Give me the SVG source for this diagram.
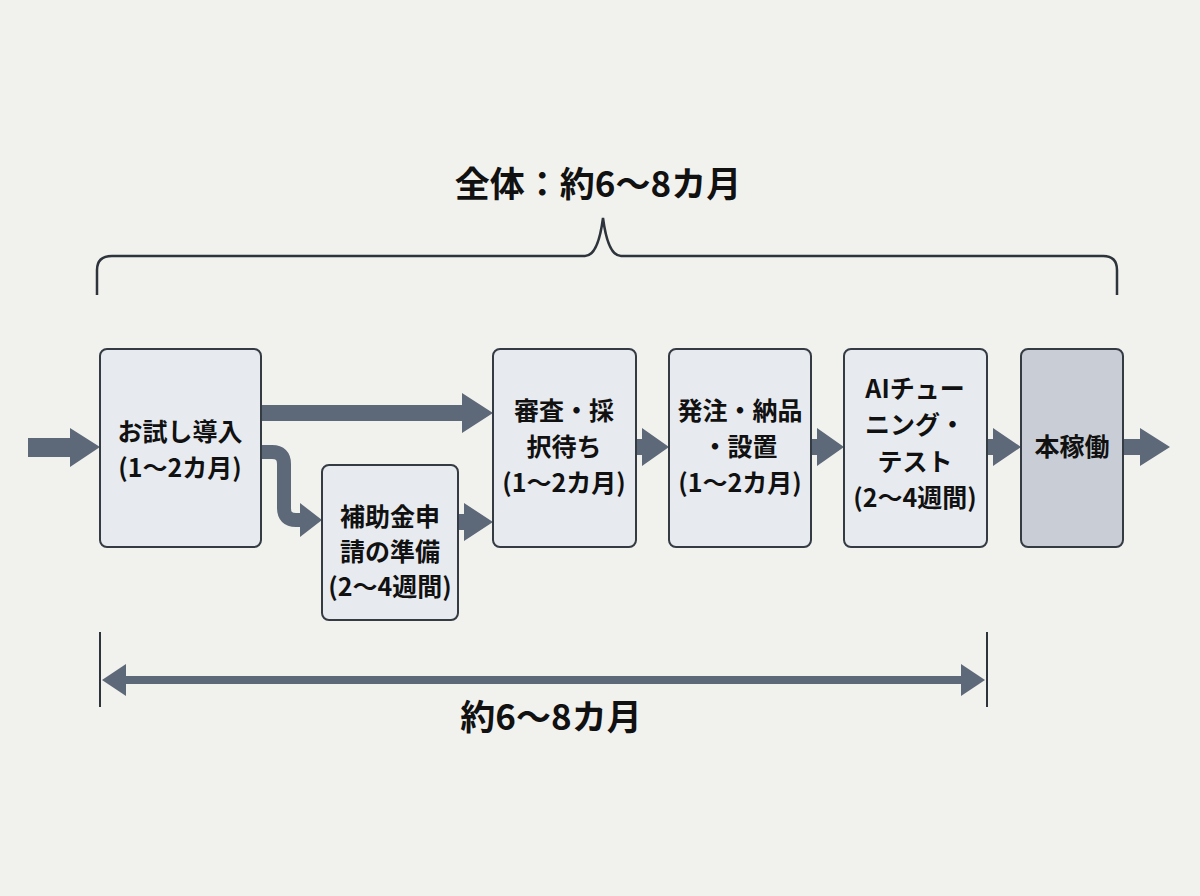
<svg xmlns="http://www.w3.org/2000/svg" width="1200" height="896" viewBox="0 0 1200 896">
<style>
.bg{fill:#f1f1ee}
.box{fill:#e7eaef;stroke:#353b43;stroke-width:2}
.box2{fill:#c9cdd6;stroke:#353b43;stroke-width:2}
.t{font-family:"Noto Sans CJK JP","Noto Sans",sans-serif;font-weight:700;font-size:25px;fill:#111;text-anchor:middle}
.big{font-size:35px}
.arr{fill:#5d6878}
.line{fill:none;stroke:#5d6878}
.br{fill:none;stroke:#2e343b;stroke-width:2.5}
</style>
<rect class="bg" x="0" y="0" width="1200" height="896"/>
<text class="t big" x="598" y="197">全体：約6〜8カ月</text>
<path class="br" d="M97,295 V270 Q97,256 112,256 H585 Q598,256 603,218 Q608,256 621,256 H1103 Q1117,256 1117,270 V295"/>
<g id="connectors">
  <polygon class="arr" points="28,438 70,438 70,428 100,447 70,467 70,457 28,457"/>
  <polygon class="arr" points="261,405 462,405 462,393 493,413 462,433 462,421 261,421"/>
  <path class="line" stroke-width="14" d="M261,452 H272 Q284,452 284,464 V508 Q284,520 296,520 H302"/>
  <polygon class="arr" points="300,503 322,520 300,537"/>
  <polygon class="arr" points="458,514 464,514 464,503 493,522 464,541 464,530 458,530"/>
  <polygon class="arr" points="636,439 642,439 642,428 669,447 642,466 642,455 636,455"/>
  <polygon class="arr" points="811,439 817,439 817,428 844,447 817,466 817,455 811,455"/>
  <polygon class="arr" points="987,439 993,439 993,428 1021,447 993,466 993,455 987,455"/>
  <polygon class="arr" points="1123,439 1140,439 1140,428 1170,447 1140,466 1140,455 1123,455"/>
  <line x1="100" y1="632" x2="100" y2="707" stroke="#2e343b" stroke-width="2"/>
  <line x1="987" y1="632" x2="987" y2="707" stroke="#2e343b" stroke-width="2"/>
  <polygon class="arr" points="102,680 126,664 126,676 961,676 961,664 985,680 961,696 961,684 126,684 126,696"/>
</g>
<text class="t big" x="551" y="730">約6〜8カ月</text>
<g id="n1">
  <rect class="box" x="100" y="349" width="161" height="198" rx="7"/>
  <text class="t" x="180" y="441">お試し導入</text>
  <text class="t" x="180" y="477">(1〜2カ月)</text>
</g>
<g id="n2">
  <rect class="box" x="322" y="465" width="136" height="155" rx="7"/>
  <text class="t" x="390" y="526">補助金申</text>
  <text class="t" x="390" y="561">請の準備</text>
  <text class="t" x="390" y="596">(2〜4週間)</text>
</g>
<g id="n3">
  <rect class="box" x="493" y="349" width="143" height="198" rx="7"/>
  <text class="t" x="564" y="420">審査・採</text>
  <text class="t" x="564" y="456">択待ち</text>
  <text class="t" x="564" y="492">(1〜2カ月)</text>
</g>
<g id="n4">
  <rect class="box" x="669" y="349" width="142" height="198" rx="7"/>
  <text class="t" x="740" y="420">発注・納品</text>
  <text class="t" x="740" y="456">・設置</text>
  <text class="t" x="740" y="492">(1〜2カ月)</text>
</g>
<g id="n5">
  <rect class="box" x="844" y="349" width="143" height="198" rx="7"/>
  <text class="t" x="915" y="398">AIチュー</text>
  <text class="t" x="915" y="434">ニング・</text>
  <text class="t" x="915" y="471">テスト</text>
  <text class="t" x="915" y="507">(2〜4週間)</text>
</g>
<g id="n6">
  <rect class="box2" x="1021" y="349" width="102" height="198" rx="7"/>
  <text class="t" x="1072" y="456">本稼働</text>
</g>
</svg>
